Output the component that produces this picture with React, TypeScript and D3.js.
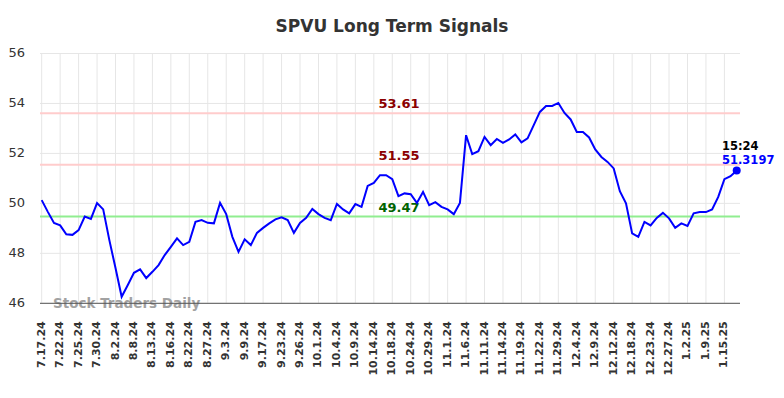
import React from "react";
import * as d3 from "d3";

const WIDTH = 784;
const HEIGHT = 398;
const MARGIN = { top: 53.5, right: 44, bottom: 94.7, left: 40 };

// daily closing values
const prices = [
  50.13, 49.66, 49.22, 49.12, 48.76, 48.74, 48.93, 49.47, 49.38, 50.01,
  49.76, 48.53, 47.41, 46.26, 46.73, 47.22, 47.36, 47.01, 47.26, 47.53,
  47.93, 48.26, 48.6, 48.33, 48.46, 49.26, 49.33, 49.22, 49.2, 50.02,
  49.57, 48.66, 48.06, 48.56, 48.33, 48.82, 49.02, 49.2, 49.36, 49.44,
  49.33, 48.82, 49.22, 49.42, 49.78, 49.57, 49.42, 49.33, 49.98, 49.76,
  49.6, 49.97, 49.86, 50.7, 50.82, 51.13, 51.13, 50.97, 50.29, 50.4,
  50.37, 50.02, 50.46, 49.93, 50.05, 49.86, 49.76, 49.57, 50.02, 52.73,
  51.97, 52.09, 52.66, 52.33, 52.58, 52.42, 52.56, 52.76, 52.44, 52.6,
  53.13, 53.66, 53.9, 53.9, 54.02, 53.62, 53.36, 52.86, 52.86, 52.64,
  52.16, 51.86, 51.66, 51.4, 50.49, 50.0, 48.8, 48.66, 49.26, 49.12,
  49.42, 49.62, 49.4, 49.02, 49.2, 49.1, 49.6, 49.65, 49.65, 49.76,
  50.26, 50.97, 51.09, 51.3197,
];

// one label every third point
const dateLabels = [
  "7.17.24", "7.22.24", "7.25.24", "7.30.24", "8.2.24", "8.8.24", "8.13.24",
  "8.16.24", "8.22.24", "8.27.24", "9.3.24", "9.9.24", "9.17.24", "9.23.24",
  "9.26.24", "10.1.24", "10.4.24", "10.9.24", "10.14.24", "10.18.24",
  "10.24.24", "10.29.24", "11.1.24", "11.6.24", "11.11.24", "11.14.24",
  "11.19.24", "11.22.24", "11.29.24", "12.4.24", "12.9.24", "12.12.24",
  "12.18.24", "12.23.24", "12.27.24", "1.2.25", "1.9.25", "1.15.25",
];

const yTicks = [46, 48, 50, 52, 54, 56];

const signals = [
  { value: 53.61, label: "53.61", line: "#ffcccc", text: "#8b0000" },
  { value: 51.55, label: "51.55", line: "#ffcccc", text: "#8b0000" },
  { value: 49.47, label: "49.47", line: "#90ee90", text: "#006400" },
];

const lastTime = "15:24";

const FONT = "DejaVu Sans, sans-serif";

const App = () => {
  const plotRight = WIDTH - MARGIN.right;
  const plotBottom = HEIGHT - MARGIN.bottom;

  const xScale = d3
    .scaleLinear()
    .domain([0, prices.length - 1])
    .range([41.7, 736.7]);

  const yScale = d3.scaleLinear().domain([46, 56]).range([plotBottom, MARGIN.top]);

  const line = d3
    .line<number>()
    .x((_, i) => xScale(i))
    .y((d) => yScale(d));

  const lastIdx = prices.length - 1;
  const lastX = xScale(lastIdx);
  const lastY = yScale(prices[lastIdx]);

  return (
    <svg
      width={WIDTH}
      height={HEIGHT}
      style={{ position: "absolute", left: 0, top: 0, background: "#fff" }}
      fontFamily={FONT}
    >
      <text
        x={WIDTH / 2}
        y={32}
        textAnchor="middle"
        fontSize={17}
        fontWeight="bold"
        fill="#333"
      >
        SPVU Long Term Signals
      </text>

      {/* grid */}
      {yTicks.map((t) => (
        <line
          key={"hy" + t}
          x1={MARGIN.left}
          x2={plotRight}
          y1={yScale(t)}
          y2={yScale(t)}
          stroke="#e6e6e6"
          strokeWidth={1}
        />
      ))}
      {dateLabels.map((d, i) => (
        <line
          key={"vx" + d}
          x1={xScale(i * 3)}
          x2={xScale(i * 3)}
          y1={MARGIN.top}
          y2={plotBottom}
          stroke="#e6e6e6"
          strokeWidth={1}
        />
      ))}

      {yTicks.map((t) => (
        <text
          key={"ty" + t}
          x={25}
          y={yScale(t)}
          textAnchor="end"
          dominantBaseline="middle"
          fontSize={13}
          fill="#333"
        >
          {t}
        </text>
      ))}

      {dateLabels.map((d, i) => (
        <text
          key={"tx" + d}
          transform={`translate(${xScale(i * 3)},${plotBottom + 18}) rotate(-90)`}
          textAnchor="end"
          dominantBaseline="middle"
          fontSize={11}
          fontWeight="bold"
          fill="#333"
        >
          {d}
        </text>
      ))}

      {/* signal levels */}
      {signals.map((s) => (
        <g key={s.label}>
          <line
            x1={MARGIN.left}
            x2={plotRight}
            y1={yScale(s.value)}
            y2={yScale(s.value)}
            stroke={s.line}
            strokeWidth={2}
          />
          <text
            x={399}
            y={yScale(s.value) - 5}
            textAnchor="middle"
            fontSize={13}
            fontWeight="bold"
            fill={s.text}
          >
            {s.label}
          </text>
        </g>
      ))}

      <text
        x={53}
        y={plotBottom + 5}
        fontSize={13.5}
        fontWeight="bold"
        fill="#999"
        opacity={0.9}
      >
        Stock Traders Daily
      </text>

      <line
        x1={MARGIN.left}
        x2={plotRight}
        y1={plotBottom}
        y2={plotBottom}
        stroke="#555"
        strokeWidth={1}
      />

      <path d={line(prices) ?? ""} fill="none" stroke="#0000ff" strokeWidth={2} />
      <circle cx={lastX} cy={lastY} r={4} fill="#0000ff" />
      <text
        x={722}
        y={lastY - 20}
        fontSize={11.5}
        fontWeight="bold"
        fill="#000"
      >
        {lastTime}
      </text>
      <text
        x={722}
        y={lastY - 6}
        fontSize={11.5}
        fontWeight="bold"
        fill="#0000ff"
      >
        {prices[lastIdx].toFixed(4)}
      </text>
    </svg>
  );
};

export default App;
